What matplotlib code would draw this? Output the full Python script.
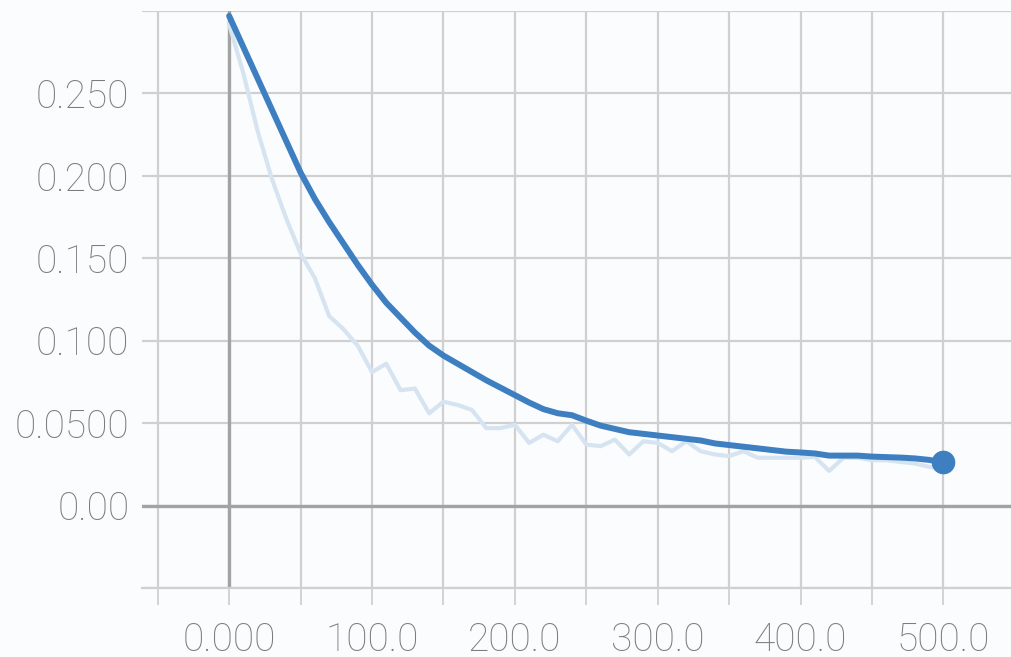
import matplotlib.pyplot as plt
from matplotlib.ticker import FixedLocator, FixedFormatter

# training steps (sampled every 10 steps)
steps = list(range(0, 501, 10))

# smoothed loss (dark line)
smoothed = [
    0.297, 0.278, 0.259, 0.240, 0.221, 0.202, 0.186, 0.172, 0.159, 0.146,
    0.134, 0.123, 0.114, 0.105, 0.097, 0.091, 0.086, 0.081, 0.076, 0.0715,
    0.067, 0.0625, 0.0585, 0.056, 0.0548, 0.0515, 0.0485, 0.0465, 0.0445, 0.0435,
    0.0425, 0.0415, 0.0405, 0.0395, 0.0377, 0.0367, 0.0357, 0.0347, 0.0337, 0.0327,
    0.0322, 0.0316, 0.0303, 0.0303, 0.0303, 0.0297, 0.0294, 0.0291, 0.0286, 0.0277,
    0.0262,
]

# raw loss (faint line)
raw = [
    0.292, 0.262, 0.227, 0.198, 0.174, 0.153, 0.138, 0.115, 0.107, 0.097,
    0.081, 0.086, 0.070, 0.071, 0.056, 0.063, 0.061, 0.058, 0.047, 0.047,
    0.049, 0.038, 0.043, 0.039, 0.049, 0.037, 0.036, 0.040, 0.031, 0.039,
    0.038, 0.033, 0.039, 0.033, 0.031, 0.030, 0.033, 0.029, 0.029, 0.029,
    0.029, 0.0295, 0.021, 0.029, 0.029, 0.0275, 0.0275, 0.0265, 0.0255, 0.0235,
    0.0225,
]

x_ticks = [0, 100, 200, 300, 400, 500]
x_labels = ["0.000", "100.0", "200.0", "300.0", "400.0", "500.0"]
y_ticks = [0.0, 0.05, 0.10, 0.15, 0.20, 0.25]
y_labels = ["0.00", "0.0500", "0.100", "0.150", "0.200", "0.250"]

bg = "#fbfcfd"
grid_c = "#d0d0d0"
zero_c = "#a3a3a3"
text_c = "#7c7c7c"
dark_blue = "#3d7fc1"
light_blue = "#d6e4f1"

plt.rcParams['font.family'] = ['Roboto', 'DejaVu Sans']

fig = plt.figure(figsize=(10.12, 6.57), dpi=100, facecolor=bg)
ax = fig.add_axes([142 / 1012, 1 - 588 / 657, 1 - 142 / 1012, (588 - 11) / 657])
ax.set_facecolor(bg)

ax.set_xlim(-61, 548)
ax.set_ylim(-0.05, 0.30)

# grid lines every 50 steps / 0.05
ax.xaxis.set_major_locator(FixedLocator(x_ticks))
ax.xaxis.set_major_formatter(FixedFormatter(x_labels))
ax.xaxis.set_minor_locator(FixedLocator([-50, 50, 150, 250, 350, 450]))
ax.yaxis.set_major_locator(FixedLocator(y_ticks))
ax.yaxis.set_major_formatter(FixedFormatter(y_labels))
ax.yaxis.set_minor_locator(FixedLocator([-0.05, 0.30]))

ax.grid(True, which='both', color=grid_c, linewidth=1.6)
ax.set_axisbelow(True)

for side in ["top", "right", "left"]:
    ax.spines[side].set_visible(False)
ax.spines["bottom"].set_color(grid_c)
ax.spines["bottom"].set_linewidth(1.6)

ax.tick_params(axis='x', which='both', direction='out', length=12,
               width=1.3, color=grid_c, pad=12, labelsize=28,
               labelcolor=text_c)
ax.tick_params(axis='y', which='both', length=0, pad=9, labelsize=28,
               labelcolor=text_c)
for lab in ax.get_xticklabels() + ax.get_yticklabels():
    lab.set_fontweight('light')

ax.axhline(0, color=zero_c, linewidth=2.4, zorder=1)
ax.plot([0, 0], [-0.05, 0.30], color=zero_c, linewidth=2.4, zorder=1)

ax.plot(steps, raw, color=light_blue, linewidth=3, zorder=2)
ax.plot(steps, smoothed, color=dark_blue, linewidth=4.3, zorder=3,
        solid_capstyle='round', solid_joinstyle='round')
ax.plot(steps[-1], smoothed[-1], 'o', color=dark_blue, markersize=16,
        zorder=4)

fig.savefig("out.png", dpi=100, facecolor=bg)
